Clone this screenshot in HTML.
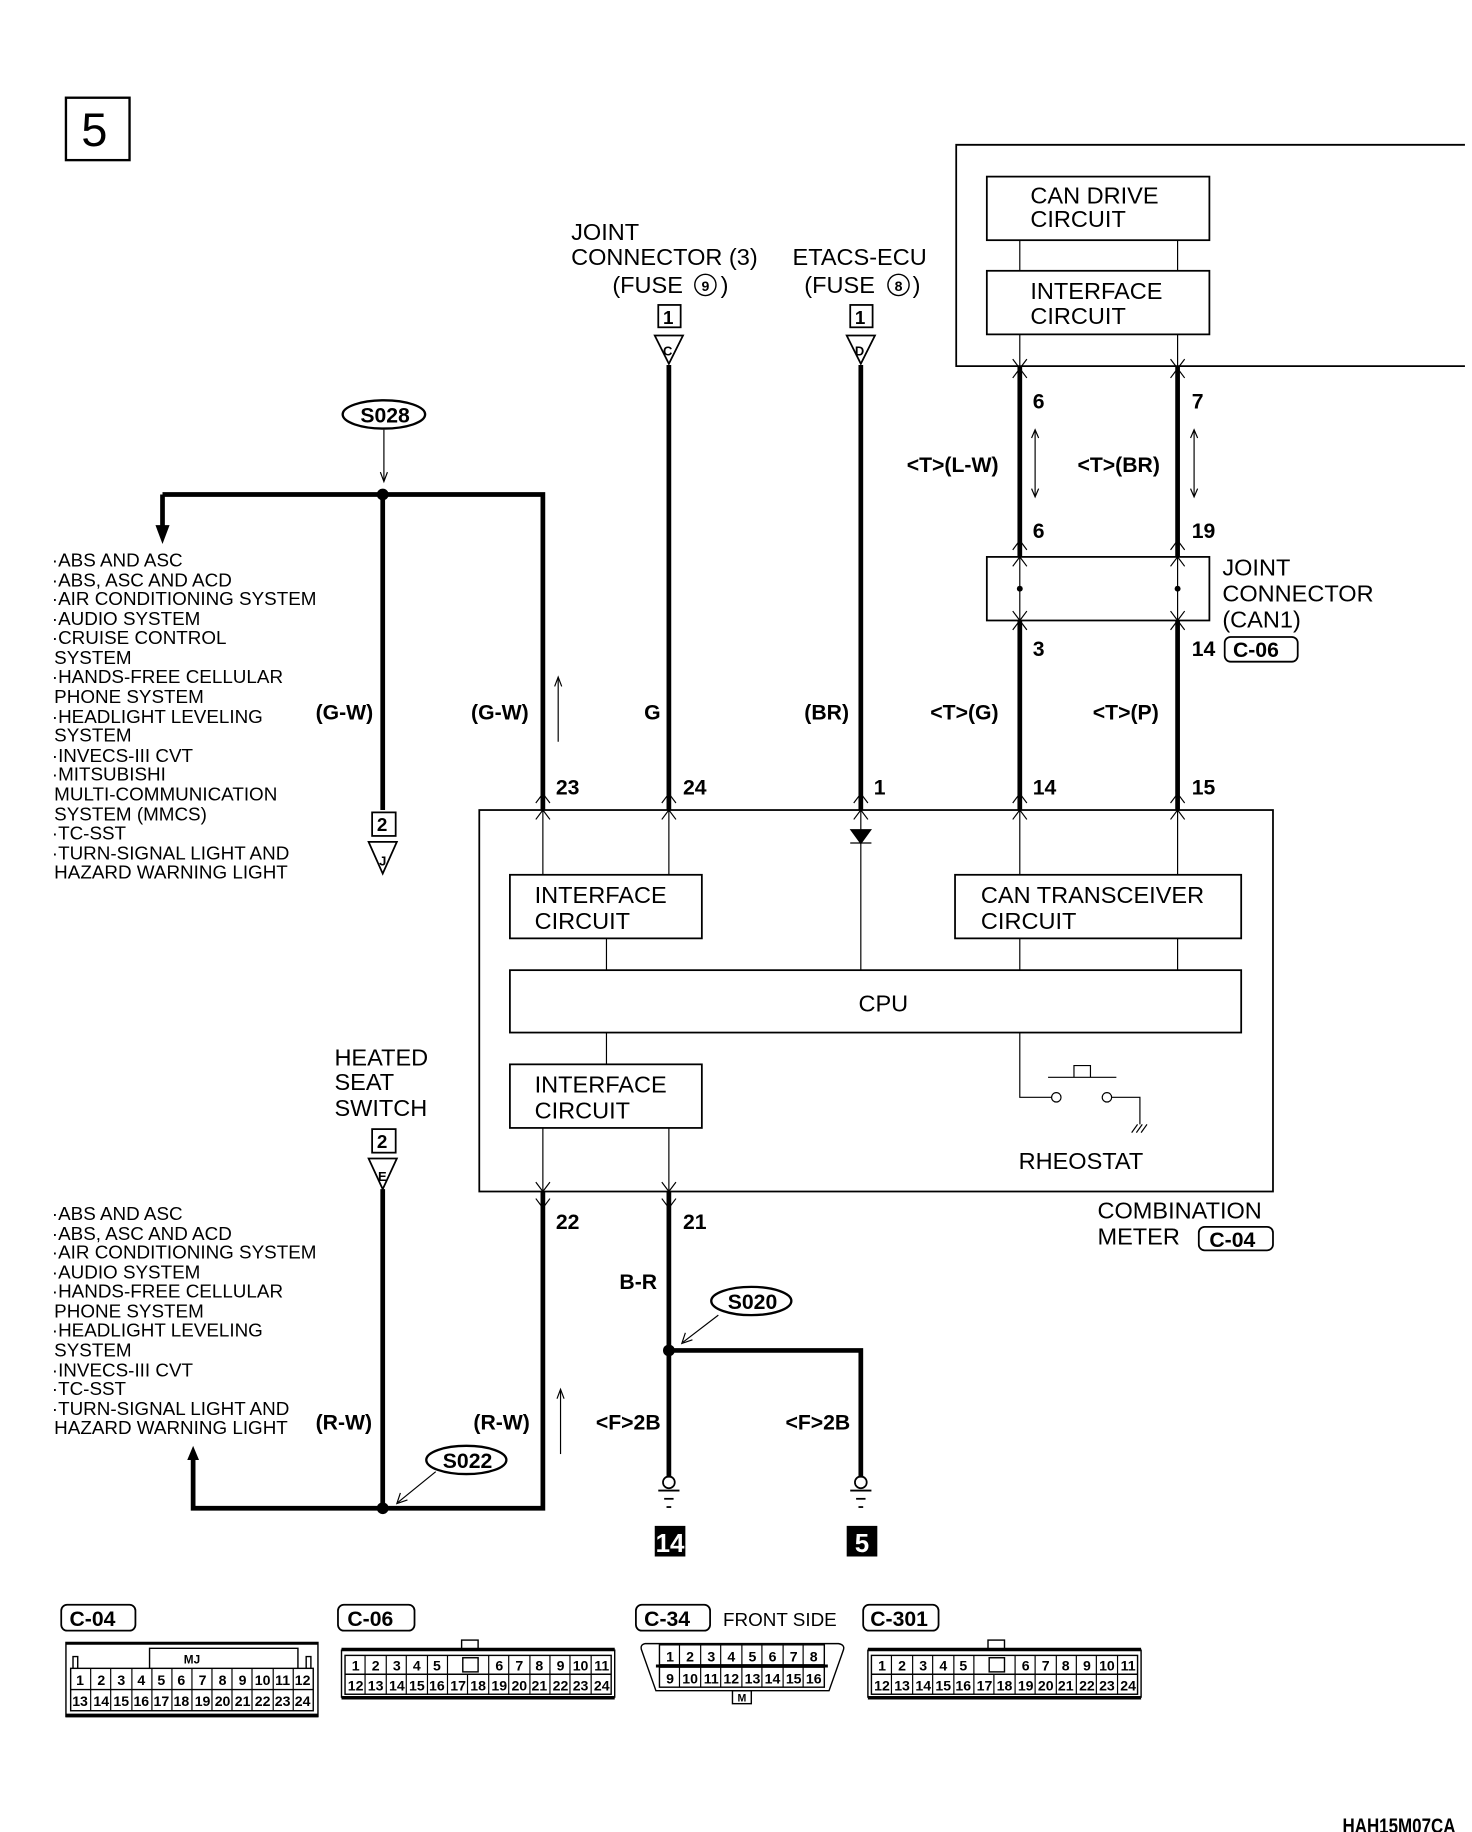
<!DOCTYPE html>
<html><head><meta charset="utf-8"><style>
html,body{margin:0;padding:0;background:#fff}
svg{display:block}
text{font-family:"Liberation Sans Narrow","Liberation Sans",sans-serif;fill:#000}
.l{font-size:20px}
.w{font-size:18px;font-weight:bold}
.s{font-size:16px}
.n{font-size:12px;font-weight:bold;text-anchor:middle}
</style></head><body>
<svg width="1472" height="1832" viewBox="0 0 1250 1556" preserveAspectRatio="none" xmlns="http://www.w3.org/2000/svg">
<g fill="none" stroke="#000" stroke-width="1.5">
<rect x="56" y="83" width="54" height="53" stroke-width="2"/>
<polyline points="1244,123 812,123 812,311 1244,311"/>
<rect x="838" y="150" width="189" height="54"/>
<rect x="838" y="230" width="189" height="54"/>
<line x1="866" y1="204" x2="866" y2="230" stroke-width="1"/>
<line x1="1000" y1="204" x2="1000" y2="230" stroke-width="1"/>
<line x1="866" y1="284" x2="866" y2="311" stroke-width="1"/>
<line x1="1000" y1="284" x2="1000" y2="311" stroke-width="1"/>
<g stroke-width="4">
<line x1="866" y1="311" x2="866" y2="473"/><line x1="1000" y1="311" x2="1000" y2="473"/>
<line x1="866" y1="527" x2="866" y2="688"/><line x1="1000" y1="527" x2="1000" y2="688"/>
<line x1="568" y1="310" x2="568" y2="688"/><line x1="731" y1="310" x2="731" y2="688"/>
<polyline points="138,420 461,420 461,688"/>
<line x1="138" y1="420" x2="138" y2="450"/>
<line x1="325" y1="420" x2="325" y2="688"/>
<line x1="325" y1="1010" x2="325" y2="1281"/>
<polyline points="164,1235 164,1281 461,1281 461,1012"/>
<line x1="568" y1="1012" x2="568" y2="1255"/>
<polyline points="568,1147 731,1147 731,1255"/>
</g>
<rect x="838" y="473" width="189" height="54"/>
<line x1="866" y1="473" x2="866" y2="527" stroke-width="1"/>
<line x1="1000" y1="473" x2="1000" y2="527" stroke-width="1"/>
<g stroke-width="1">
<polyline points="860,305 866,313 872,305"/><polyline points="994,305 1000,313 1006,305"/>
<polyline points="860,321 866,313 872,321"/><polyline points="994,321 1000,313 1006,321"/>
<polyline points="860,467 866,459 872,467"/><polyline points="994,467 1000,459 1006,467"/>
<polyline points="860,481 866,473 872,481"/><polyline points="994,481 1000,473 1006,481"/>
<polyline points="860,519 866,527 872,519"/><polyline points="994,519 1000,527 1006,519"/>
<polyline points="860,535 866,527 872,535"/><polyline points="994,535 1000,527 1006,535"/>
<polyline points="455,682 461,674 467,682"/><polyline points="455,696 461,688 467,696"/>
<polyline points="562,682 568,674 574,682"/><polyline points="562,696 568,688 574,696"/>
<polyline points="725,682 731,674 737,682"/><polyline points="725,696 731,688 737,696"/>
<polyline points="860,682 866,674 872,682"/><polyline points="860,696 866,688 872,696"/>
<polyline points="994,682 1000,674 1006,682"/><polyline points="994,696 1000,688 1006,696"/>
<polyline points="455,1004 461,1012 467,1004"/><polyline points="455,1018 461,1026 467,1018"/>
<polyline points="562,1004 568,1012 574,1004"/><polyline points="562,1018 568,1026 574,1018"/>
</g>
<g stroke-width="1">
<line x1="879" y1="366" x2="879" y2="421"/><polyline points="876,372 879,365 882,372"/><polyline points="876,415 879,422 882,415"/>
<line x1="1014" y1="366" x2="1014" y2="421"/><polyline points="1011,372 1014,365 1017,372"/><polyline points="1011,415 1014,422 1017,415"/>
<line x1="474" y1="576" x2="474" y2="630"/><polyline points="471,583 474,575 477,583"/>
<line x1="476" y1="1181" x2="476" y2="1235"/><polyline points="473,1188 476,1180 479,1188"/>
<line x1="326" y1="365" x2="326" y2="408"/><polyline points="323,401 326,409 329,401"/>
<line x1="370" y1="1250" x2="338" y2="1276"/><polyline points="340,1268 337,1277 346,1274"/>
<line x1="610" y1="1117" x2="580" y2="1140"/><polyline points="582,1132 579,1141 588,1138"/>
</g>
<rect x="559" y="259" width="19" height="19"/><rect x="722" y="259" width="19" height="19"/>
<polygon points="556,285 580,285 568,309"/><polygon points="719,285 743,285 731,309"/>
<rect x="316" y="690" width="20" height="20"/><polygon points="313,715 337,715 325,742"/>
<rect x="316" y="959" width="20" height="20"/><polygon points="313,984 337,984 325,1010"/>
<ellipse cx="326" cy="352" rx="35" ry="12" stroke-width="2"/>
<ellipse cx="396" cy="1240" rx="34" ry="12" stroke-width="2"/>
<ellipse cx="638" cy="1105" rx="34" ry="12" stroke-width="2"/>
<rect x="407" y="688" width="674" height="324"/>
<rect x="433" y="743" width="163" height="54"/>
<rect x="811" y="743" width="243" height="54"/>
<rect x="433" y="824" width="621" height="53"/>
<rect x="433" y="904" width="163" height="54"/>
<g stroke-width="1">
<line x1="461" y1="688" x2="461" y2="743"/><line x1="568" y1="688" x2="568" y2="743"/>
<line x1="731" y1="688" x2="731" y2="824"/><line x1="866" y1="688" x2="866" y2="743"/>
<line x1="1000" y1="688" x2="1000" y2="743"/><line x1="515" y1="797" x2="515" y2="824"/>
<line x1="866" y1="797" x2="866" y2="824"/><line x1="1000" y1="797" x2="1000" y2="824"/>
<line x1="515" y1="877" x2="515" y2="904"/>
<line x1="461" y1="958" x2="461" y2="1012"/><line x1="568" y1="958" x2="568" y2="1012"/>
<polyline points="866,877 866,932 893,932"/>
<circle cx="897" cy="932" r="4"/><circle cx="940" cy="932" r="4"/>
<polyline points="944,932 968,932 968,955"/>
<line x1="890" y1="915" x2="948" y2="915"/>
<polyline points="912,915 912,905 926,905 926,915"/>
<line x1="961" y1="962" x2="966" y2="955"/><line x1="965" y1="962" x2="970" y2="955"/><line x1="969" y1="962" x2="974" y2="955"/>
<line x1="722" y1="716" x2="740" y2="716"/>
</g>
<polygon points="723,705 739,705 731,716" fill="#000"/>
<circle cx="568" cy="1259" r="5"/><circle cx="731" cy="1259" r="5"/>
<line x1="559" y1="1266" x2="577" y2="1266"/><line x1="564" y1="1273" x2="572" y2="1273"/><line x1="566" y1="1280" x2="570" y2="1280"/>
<line x1="722" y1="1266" x2="740" y2="1266"/><line x1="727" y1="1273" x2="735" y2="1273"/><line x1="729" y1="1280" x2="733" y2="1280"/>
<rect x="1040" y="541" width="62" height="21" rx="5"/>
<rect x="1018" y="1042" width="63" height="20" rx="5"/>
<rect x="52" y="1363" width="63" height="22" rx="5"/>
<rect x="287" y="1363" width="65" height="22" rx="5"/>
<rect x="540" y="1363" width="63" height="22" rx="5"/>
<rect x="733" y="1363" width="64" height="22" rx="5"/>
</g>
<g fill="#000">
<circle cx="325" cy="420" r="5"/><circle cx="325" cy="1281" r="5"/><circle cx="568" cy="1147" r="5"/>
<circle cx="866" cy="500" r="2.5"/><circle cx="1000" cy="500" r="2.5"/>
<polygon points="132,446 144,446 138,462"/>
<polygon points="159,1240 169,1240 164,1228"/>
<rect x="556" y="1296" width="26" height="26"/><rect x="719" y="1296" width="26" height="26"/>
</g>
<text x="69" y="124" style="font-size:40px">5</text>
<g class="l">
<text x="875" y="173">CAN DRIVE</text><text x="875" y="193">CIRCUIT</text>
<text x="875" y="254">INTERFACE</text><text x="875" y="275">CIRCUIT</text>
<text x="485" y="204">JOINT</text><text x="485" y="225">CONNECTOR (3)</text><text x="520" y="249">(FUSE</text><text x="612" y="249">)</text>
<text x="673" y="225">ETACS-ECU</text><text x="683" y="249">(FUSE</text><text x="775" y="249">)</text>
<text x="1038" y="489">JOINT</text><text x="1038" y="511">CONNECTOR</text><text x="1038" y="533">(CAN1)</text>
<text x="454" y="767">INTERFACE</text><text x="454" y="789">CIRCUIT</text>
<text x="833" y="767">CAN TRANSCEIVER</text><text x="833" y="789">CIRCUIT</text>
<text x="729" y="859">CPU</text>
<text x="454" y="928">INTERFACE</text><text x="454" y="950">CIRCUIT</text>
<text x="865" y="993">RHEOSTAT</text>
<text x="932" y="1035">COMBINATION</text><text x="932" y="1057">METER</text>
<text x="284" y="905">HEATED</text><text x="284" y="926">SEAT</text><text x="284" y="948">SWITCH</text>
</g>
<g fill="none" stroke="#000" stroke-width="1.2"><circle cx="599" cy="242" r="9"/><circle cx="763" cy="242" r="9"/></g>
<text x="599" y="247" class="n">9</text><text x="763" y="247" class="n">8</text>
<g class="s">
<text x="44" y="481">·ABS AND ASC</text><text x="44" y="498">·ABS, ASC AND ACD</text><text x="44" y="514">·AIR CONDITIONING SYSTEM</text>
<text x="44" y="531">·AUDIO SYSTEM</text><text x="44" y="547">·CRUISE CONTROL</text><text x="46" y="564">SYSTEM</text>
<text x="44" y="580">·HANDS-FREE CELLULAR</text><text x="46" y="597">PHONE SYSTEM</text><text x="44" y="614">·HEADLIGHT LEVELING</text>
<text x="46" y="630">SYSTEM</text><text x="44" y="647">·INVECS-III CVT</text><text x="44" y="663">·MITSUBISHI</text>
<text x="46" y="680">MULTI-COMMUNICATION</text><text x="46" y="697">SYSTEM (MMCS)</text><text x="44" y="713">·TC-SST</text>
<text x="44" y="730">·TURN-SIGNAL LIGHT AND</text><text x="46" y="746">HAZARD WARNING LIGHT</text>
<text x="44" y="1036">·ABS AND ASC</text><text x="44" y="1053">·ABS, ASC AND ACD</text><text x="44" y="1069">·AIR CONDITIONING SYSTEM</text>
<text x="44" y="1086">·AUDIO SYSTEM</text><text x="44" y="1102">·HANDS-FREE CELLULAR</text><text x="46" y="1119">PHONE SYSTEM</text>
<text x="44" y="1135">·HEADLIGHT LEVELING</text><text x="46" y="1152">SYSTEM</text><text x="44" y="1169">·INVECS-III CVT</text>
<text x="44" y="1185">·TC-SST</text><text x="44" y="1202">·TURN-SIGNAL LIGHT AND</text><text x="46" y="1218">HAZARD WARNING LIGHT</text>
<text x="614" y="1381">FRONT SIDE</text>
</g>
<g class="w">
<text x="877" y="347">6</text><text x="1012" y="347">7</text>
<text x="877" y="457">6</text><text x="1012" y="457">19</text>
<text x="877" y="557">3</text><text x="1012" y="557">14</text>
<text x="877" y="675">14</text><text x="1012" y="675">15</text>
<text x="472" y="675">23</text><text x="580" y="675">24</text><text x="742" y="675">1</text>
<text x="472" y="1044">22</text><text x="580" y="1044">21</text>
<text x="770" y="401">&lt;T&gt;(L-W)</text><text x="915" y="401">&lt;T&gt;(BR)</text>
<text x="790" y="611">&lt;T&gt;(G)</text><text x="928" y="611">&lt;T&gt;(P)</text>
<text x="268" y="611">(G-W)</text><text x="400" y="611">(G-W)</text><text x="547" y="611">G</text><text x="683" y="611">(BR)</text>
<text x="268" y="1214">(R-W)</text><text x="402" y="1214">(R-W)</text>
<text x="526" y="1095">B-R</text><text x="506" y="1214">&lt;F&gt;2B</text><text x="667" y="1214">&lt;F&gt;2B</text>
<text x="306" y="359">S028</text><text x="376" y="1247">S022</text><text x="618" y="1112">S020</text>
<text x="1047" y="558">C-06</text><text x="1027" y="1059">C-04</text>
<text x="59" y="1381">C-04</text><text x="295" y="1381">C-06</text><text x="547" y="1381">C-34</text><text x="739" y="1381">C-301</text>
<text x="1140" y="1557" textLength="96" lengthAdjust="spacingAndGlyphs">HAH15M07CA</text>
</g>
<g style="font-size:16px;font-weight:bold">
<text x="563" y="275">1</text><text x="726" y="275">1</text><text x="320" y="706">2</text><text x="320" y="975">2</text>
<text x="563" y="302" style="font-size:11px">C</text><text x="726" y="302" style="font-size:11px">D</text>
<text x="322" y="735" style="font-size:11px">J</text><text x="321" y="1003" style="font-size:11px">E</text>
</g>
<text x="569" y="1318" class="n" style="fill:#fff;font-size:22px">14</text>
<text x="732" y="1318" class="n" style="fill:#fff;font-size:22px">5</text>

<g fill="none" stroke="#000" stroke-width="1.2">
<rect x="56" y="1395" width="214" height="63"/>
<line x1="56" y1="1457" x2="270" y2="1457" stroke-width="3"/>
<line x1="56" y1="1396" x2="270" y2="1396" stroke-width="2"/>
<rect x="60" y="1417" width="206" height="36"/><line x1="60" y1="1435" x2="266" y2="1435"/>
<polyline points="127,1417 127,1400 253,1400 253,1417"/>
<polyline points="62,1417 62,1407 66,1407 66,1417"/><polyline points="260,1417 260,1407 264,1407 264,1417"/>
</g>
<g stroke="#000" stroke-width="1">
<line x1="77" y1="1417" x2="77" y2="1453"/><line x1="94" y1="1417" x2="94" y2="1453"/><line x1="112" y1="1417" x2="112" y2="1453"/><line x1="129" y1="1417" x2="129" y2="1453"/><line x1="146" y1="1417" x2="146" y2="1453"/><line x1="163" y1="1417" x2="163" y2="1453"/><line x1="180" y1="1417" x2="180" y2="1453"/><line x1="197" y1="1417" x2="197" y2="1453"/><line x1="214" y1="1417" x2="214" y2="1453"/><line x1="232" y1="1417" x2="232" y2="1453"/><line x1="249" y1="1417" x2="249" y2="1453"/>
</g>
<g class="n">
<text x="68" y="1431">1</text><text x="86" y="1431">2</text><text x="103" y="1431">3</text><text x="120" y="1431">4</text><text x="137" y="1431">5</text><text x="154" y="1431">6</text><text x="172" y="1431">7</text><text x="189" y="1431">8</text><text x="206" y="1431">9</text><text x="223" y="1431">10</text><text x="240" y="1431">11</text><text x="257" y="1431">12</text>
<text x="68" y="1449">13</text><text x="86" y="1449">14</text><text x="103" y="1449">15</text><text x="120" y="1449">16</text><text x="137" y="1449">17</text><text x="154" y="1449">18</text><text x="172" y="1449">19</text><text x="189" y="1449">20</text><text x="206" y="1449">21</text><text x="223" y="1449">22</text><text x="240" y="1449">23</text><text x="257" y="1449">24</text>
<text x="163" y="1413" style="font-size:10px">MJ</text>
</g>

<g id="c06">
<g fill="none" stroke="#000" stroke-width="1.2">
<line x1="290" y1="1401" x2="522" y2="1401" stroke-width="3"/>
<line x1="290" y1="1442" x2="522" y2="1442" stroke-width="3"/>
<line x1="290" y1="1401" x2="290" y2="1442"/><line x1="522" y1="1401" x2="522" y2="1442"/>
<rect x="293" y="1406" width="226" height="33"/><line x1="293" y1="1422" x2="519" y2="1422"/>
<rect x="392" y="1393" width="14" height="8"/>
<rect x="393" y="1408" width="13" height="12"/>
</g>
<g stroke="#000" stroke-width="1">
<line x1="310" y1="1406" x2="310" y2="1439"/><line x1="328" y1="1406" x2="328" y2="1439"/><line x1="345" y1="1406" x2="345" y2="1439"/><line x1="363" y1="1406" x2="363" y2="1439"/><line x1="380" y1="1406" x2="380" y2="1439"/><line x1="397" y1="1422" x2="397" y2="1439"/><line x1="415" y1="1406" x2="415" y2="1439"/><line x1="432" y1="1406" x2="432" y2="1439"/><line x1="450" y1="1406" x2="450" y2="1439"/><line x1="467" y1="1406" x2="467" y2="1439"/><line x1="484" y1="1406" x2="484" y2="1439"/><line x1="502" y1="1406" x2="502" y2="1439"/>
</g>
<g class="n">
<text x="302" y="1419">1</text><text x="319" y="1419">2</text><text x="337" y="1419">3</text><text x="354" y="1419">4</text><text x="371" y="1419">5</text><text x="424" y="1419">6</text><text x="441" y="1419">7</text><text x="458" y="1419">8</text><text x="476" y="1419">9</text><text x="493" y="1419">10</text><text x="511" y="1419">11</text>
<text x="302" y="1436">12</text><text x="319" y="1436">13</text><text x="337" y="1436">14</text><text x="354" y="1436">15</text><text x="371" y="1436">16</text><text x="389" y="1436">17</text><text x="406" y="1436">18</text><text x="424" y="1436">19</text><text x="441" y="1436">20</text><text x="458" y="1436">21</text><text x="476" y="1436">22</text><text x="493" y="1436">23</text><text x="511" y="1436">24</text>
</g>
</g>
<use href="#c06" transform="translate(447,0)"/>

<g fill="none" stroke="#000" stroke-width="1.2">
<path d="M548 1396 L712 1396 Q718 1397 716 1402 L704 1436 L557 1436 L545 1402 Q543 1397 548 1396 Z"/>
<rect x="560" y="1397" width="140" height="17"/><rect x="560" y="1416" width="140" height="17"/>
<line x1="557" y1="1415" x2="703" y2="1415" stroke-width="2.5"/>
<rect x="622" y="1436" width="16" height="11"/>
</g>
<g stroke="#000" stroke-width="1">
<line x1="577" y1="1397" x2="577" y2="1433"/><line x1="595" y1="1397" x2="595" y2="1433"/><line x1="612" y1="1397" x2="612" y2="1433"/><line x1="630" y1="1397" x2="630" y2="1433"/><line x1="647" y1="1397" x2="647" y2="1433"/><line x1="665" y1="1397" x2="665" y2="1433"/><line x1="682" y1="1397" x2="682" y2="1433"/>
</g>
<g class="n">
<text x="569" y="1411">1</text><text x="586" y="1411">2</text><text x="604" y="1411">3</text><text x="621" y="1411">4</text><text x="639" y="1411">5</text><text x="656" y="1411">6</text><text x="674" y="1411">7</text><text x="691" y="1411">8</text>
<text x="569" y="1430">9</text><text x="586" y="1430">10</text><text x="604" y="1430">11</text><text x="621" y="1430">12</text><text x="639" y="1430">13</text><text x="656" y="1430">14</text><text x="674" y="1430">15</text><text x="691" y="1430">16</text>
<text x="630" y="1445" style="font-size:9px">M</text>
</g>
</svg>
</body></html>
